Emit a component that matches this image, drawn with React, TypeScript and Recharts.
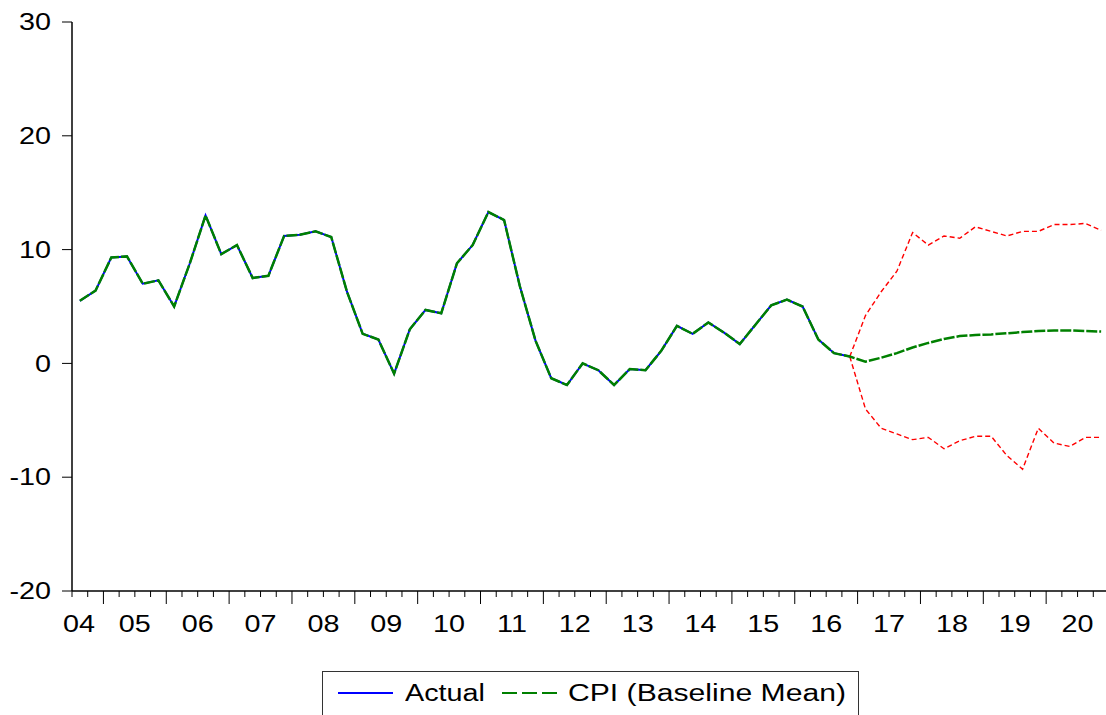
import React from "react";
import { LineChart, Line, XAxis, YAxis } from "recharts";

// quarterly, 2004Q3 .. 2020Q4
const years = ["04", "05", "06", "07", "08", "09", "10", "11", "12", "13", "14", "15", "16", "17", "18", "19", "20"];

// actual CPI inflation, 2004Q3 .. 2016Q4
const actual = [
  5.5, 6.4, 9.3, 9.4, 7.0, 7.3, 5.0, 8.8, 13.0, 9.6, 10.4, 7.5, 7.7, 11.2, 11.3, 11.6, 11.1,
  6.3, 2.6, 2.1, -0.9, 3.0, 4.7, 4.4, 8.8, 10.4, 13.3, 12.6, 6.8, 2.0, -1.3, -1.9, 0.0, -0.6,
  -1.9, -0.5, -0.6, 1.1, 3.3, 2.6, 3.6, 2.7, 1.7, 3.4, 5.1, 5.6, 5.0, 2.1, 0.9, 0.6,
];

// baseline mean forecast and bands, 2017Q1 .. 2020Q4
const forecast = [0.15, 0.5, 0.9, 1.4, 1.8, 2.15, 2.4, 2.5, 2.55, 2.65, 2.75, 2.85, 2.9, 2.9, 2.85, 2.8];
const upper = [4.2, 6.3, 8.1, 11.5, 10.4, 11.2, 11.0, 12.0, 11.6, 11.2, 11.6, 11.6, 12.2, 12.2, 12.3, 11.7];
const lower = [-4.0, -5.7, -6.2, -6.7, -6.5, -7.5, -6.8, -6.4, -6.4, -8.1, -9.3, -5.7, -7.0, -7.3, -6.5, -6.5];

const yTicks = [-20, -10, 0, 10, 20, 30];

const nHist = actual.length;
const nAll = nHist + forecast.length;

const data = Array.from({ length: nAll }, (_, i) => {
  const f = i - nHist;
  return {
    t: i + 0.5,
    actual: i < nHist ? actual[i] : null,
    cpi: i < nHist ? actual[i] : forecast[f],
    upper: i === nHist - 1 ? actual[i] : f >= 0 ? upper[f] : null,
    lower: i === nHist - 1 ? actual[i] : f >= 0 ? lower[f] : null,
  };
});

const xTicks = Array.from({ length: nAll + 1 }, (_, i) => i);

const FONT = "'Liberation Sans', Arial, sans-serif";
const STRETCH = 1.25;

function QuarterTick(props: any) {
  const { x, y, payload } = props;
  const t = payload.value as number;
  const major = t % 4 === 2;
  const label = t % 4 === 0 ? years[t / 4] : null;
  const dx = t === 0 ? 7 : 0;
  return (
    <g>
      <line x1={x} x2={x} y1={y} y2={y + (major ? 13 : 6)} stroke="#000" strokeWidth={1} />
      {label && (
        <text
          transform={`translate(${x + dx},${y + 40.5}) scale(${STRETCH},1)`}
          textAnchor="middle"
          fontSize={23}
          fontFamily={FONT}
          fill="#000"
        >
          {label}
        </text>
      )}
    </g>
  );
}

function ValueTick(props: any) {
  const { x, y, payload } = props;
  return (
    <text
      transform={`translate(${x - 11},${y}) scale(${STRETCH},1)`}
      textAnchor="end"
      dy="0.36em"
      fontSize={23}
      fontFamily={FONT}
      fill="#000"
    >
      {payload.value}
    </text>
  );
}

function ChartLegend() {
  const txt: React.CSSProperties = {
    position: "absolute",
    top: 7,
    fontSize: 23,
    fontFamily: FONT,
    transform: `scaleX(${STRETCH})`,
    transformOrigin: "left center",
    whiteSpace: "nowrap",
    lineHeight: "28px",
  };
  return (
    <div
      style={{
        position: "absolute",
        left: 322,
        top: 671,
        width: 535,
        height: 50,
        border: "1px solid #333",
        background: "#fff",
      }}
    >
      <svg style={{ position: "absolute", left: 15, top: 19 }} width={56} height={4}>
        <line x1={0} x2={55} y1={2} y2={2} stroke="#0000ff" strokeWidth={2} />
      </svg>
      <span style={{ ...txt, left: 82 }}>Actual</span>
      <svg style={{ position: "absolute", left: 179, top: 19 }} width={56} height={4}>
        <line x1={0} x2={56} y1={2} y2={2} stroke="#008000" strokeWidth={2} strokeDasharray="15 5" />
      </svg>
      <span style={{ ...txt, left: 245, transform: "scaleX(1.31)" }}>CPI (Baseline Mean)</span>
    </div>
  );
}

export default function App() {
  return (
    <div
      style={{
        position: "absolute",
        left: 0,
        top: 0,
        width: 1106,
        height: 715,
        overflow: "hidden",
        background: "#fff",
      }}
    >
      <LineChart width={1110} height={715} data={data} margin={{ top: 22, right: 1, bottom: 64, left: 0 }}>
        <XAxis
          dataKey="t"
          type="number"
          domain={[0, nAll]}
          ticks={xTicks}
          interval={0}
          tickSize={0}
          tickMargin={0}
          tickLine={false}
          tick={<QuarterTick />}
          height={60}
          axisLine={{ stroke: "#000", strokeWidth: 1.5 }}
        />
        <YAxis
          type="number"
          domain={[-20, 30]}
          ticks={yTicks}
          interval={0}
          width={72}
          tickSize={10}
          tickMargin={0}
          tickLine={{ stroke: "#000" }}
          tick={<ValueTick />}
          axisLine={{ stroke: "#000", strokeWidth: 1.5 }}
        />
        <Line
          dataKey="upper"
          type="linear"
          stroke="#ff0000"
          strokeWidth={1.4}
          strokeDasharray="5 3"
          dot={false}
          activeDot={false}
          isAnimationActive={false}
        />
        <Line
          dataKey="lower"
          type="linear"
          stroke="#ff0000"
          strokeWidth={1.4}
          strokeDasharray="5 3"
          dot={false}
          activeDot={false}
          isAnimationActive={false}
        />
        <Line
          dataKey="actual"
          type="linear"
          stroke="#0000ff"
          strokeWidth={2}
          dot={false}
          activeDot={false}
          isAnimationActive={false}
        />
        <Line
          dataKey="cpi"
          type="linear"
          stroke="#008000"
          strokeWidth={2.5}
          strokeDasharray="11 2"
          dot={false}
          activeDot={false}
          isAnimationActive={false}
        />
      </LineChart>
      <ChartLegend />
    </div>
  );
}
